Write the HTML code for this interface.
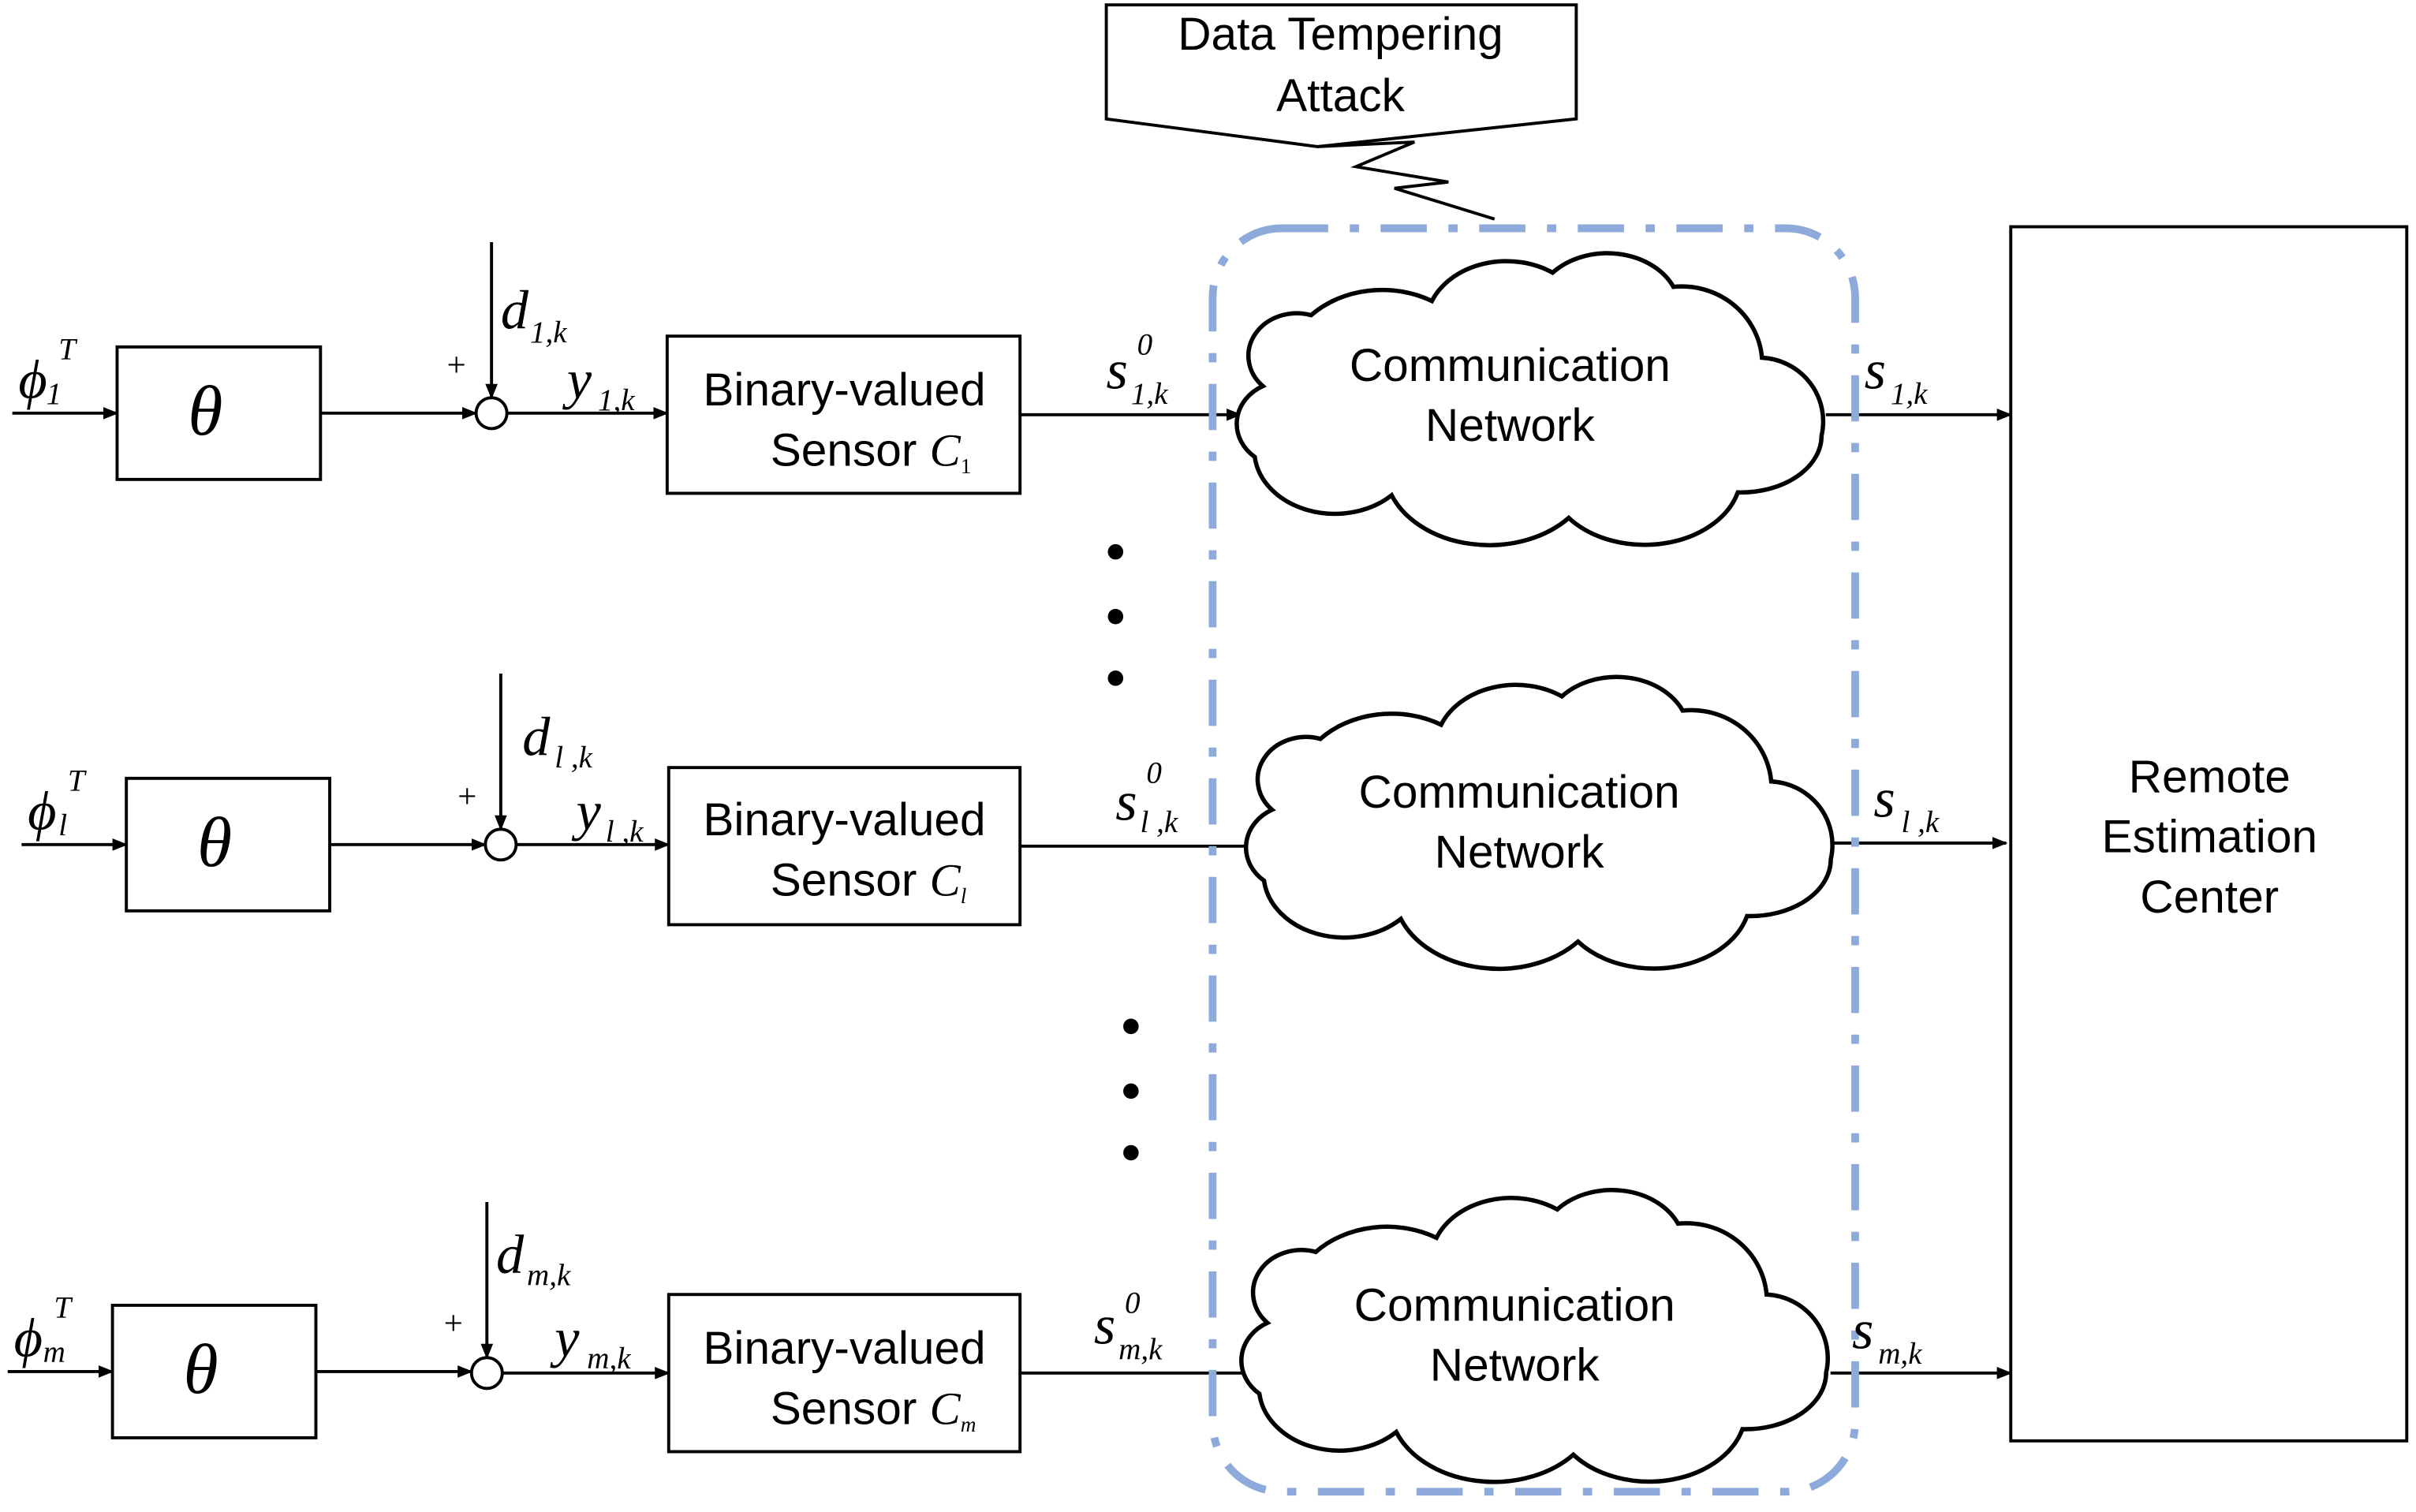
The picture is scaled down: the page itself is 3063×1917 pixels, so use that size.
<!DOCTYPE html>
<html><head><meta charset="utf-8"><style>
html,body{margin:0;padding:0;background:#fff;}
svg{display:block;}
.t{font-family:"Liberation Sans",sans-serif;font-size:30px;fill:#000;}
.m{font-family:"Liberation Serif",serif;font-style:italic;fill:#000;}
.r{font-family:"Liberation Serif",serif;fill:#000;}
</style></head><body>
<svg width="3063" height="1917" viewBox="0 0 1568 981" xmlns="http://www.w3.org/2000/svg">
<defs>
<marker id="a" markerWidth="10" markerHeight="10" refX="9" refY="5" orient="auto" markerUnits="userSpaceOnUse"><path d="M0,1 L10,5 L0,9 Z" fill="#000"/></marker>
<path id="cloud" d="M35,95 A30,30 0 0 1 65,45 A60,55 0 0 1 140,35 A50,45 0 0 1 215,15 A45,40 0 0 1 290,25 A50,55 0 0 1 345,75 A40,45 0 0 1 382,130 A50,40 0 0 1 330,170 A60,50 0 0 1 225,188 A65,55 0 0 1 115,172 A50,45 0 0 1 30,145 A30,30 0 0 1 35,95 Z" fill="#fff" stroke="#000" stroke-width="5.5" vector-effect="non-scaling-stroke"/>
</defs>
<g stroke="#000" stroke-width="2" fill="none">
<line x1="8" y1="268" x2="76" y2="268" marker-end="url(#a)"/>
<rect x="76" y="225" width="132" height="86"/>
<line x1="208" y1="268" x2="309" y2="268" marker-end="url(#a)"/>
<circle cx="319" cy="268" r="10"/>
<line x1="319" y1="157" x2="319" y2="258" marker-end="url(#a)"/>
<line x1="329" y1="268" x2="433" y2="268" marker-end="url(#a)"/>
<rect x="433" y="218" width="229" height="102"/>
<line x1="662" y1="269" x2="805" y2="269" marker-end="url(#a)"/>
<line x1="1185" y1="269" x2="1305" y2="269" marker-end="url(#a)"/>
<line x1="14" y1="548" x2="82" y2="548" marker-end="url(#a)"/>
<rect x="82" y="505" width="132" height="86"/>
<line x1="214" y1="548" x2="315" y2="548" marker-end="url(#a)"/>
<circle cx="325" cy="548" r="10"/>
<line x1="325" y1="437" x2="325" y2="538" marker-end="url(#a)"/>
<line x1="335" y1="548" x2="434" y2="548" marker-end="url(#a)"/>
<rect x="434" y="498" width="228" height="102"/>
<line x1="662" y1="549" x2="818" y2="549" marker-end="url(#a)"/>
<line x1="1190" y1="547" x2="1302" y2="547" marker-end="url(#a)"/>
<line x1="5" y1="890" x2="73" y2="890" marker-end="url(#a)"/>
<rect x="73" y="847" width="132" height="86"/>
<line x1="205" y1="890" x2="306" y2="890" marker-end="url(#a)"/>
<circle cx="316" cy="891" r="10"/>
<line x1="316" y1="780" x2="316" y2="881" marker-end="url(#a)"/>
<line x1="326" y1="891" x2="434" y2="891" marker-end="url(#a)"/>
<rect x="434" y="840" width="228" height="102"/>
<line x1="662" y1="891" x2="818" y2="891" marker-end="url(#a)"/>
<line x1="1188" y1="891" x2="1305" y2="891" marker-end="url(#a)"/>
<rect x="1305" y="147" width="257" height="788"/>
</g>
<use href="#cloud" transform="translate(783,163) scale(1.045,0.92)"/>
<use href="#cloud" transform="translate(789,438) scale(1.045,0.92)"/>
<use href="#cloud" transform="translate(786,771) scale(1.045,0.92)"/>
<rect x="787" y="148" width="417" height="820" rx="45" fill="none" stroke="#8eaadb" stroke-width="5" stroke-dasharray="30,14,6,14"/>
<path d="M718,3 L1023,3 L1023,77 L855,95 L718,77 Z" fill="#fff" stroke="#000" stroke-width="2"/>
<path d="M855,95 L918,92 L880,108 L940,118 L905,122 L970,142" fill="none" stroke="#000" stroke-width="2"/>
<g fill="#000">
<circle cx="724" cy="358" r="5"/><circle cx="724" cy="400" r="5"/><circle cx="724" cy="440" r="5"/>
<circle cx="734" cy="666" r="5"/><circle cx="734" cy="708" r="5"/><circle cx="734" cy="748" r="5"/>
</g>
<g class="t" text-anchor="middle">
<text x="870" y="32">Data Tempering</text><text x="870" y="72">Attack</text>
<text x="980" y="247">Communication</text><text x="980" y="286">Network</text>
<text x="986" y="524">Communication</text><text x="986" y="563">Network</text>
<text x="983" y="857">Communication</text><text x="983" y="896">Network</text>
<text x="1434" y="514">Remote</text><text x="1434" y="553">Estimation</text><text x="1434" y="592">Center</text>
<text x="548" y="263">Binary-valued</text><text x="548" y="542">Binary-valued</text><text x="548" y="885">Binary-valued</text>
</g>
<g class="t">
<text x="500" y="302">Sensor <tspan class="m">C</tspan><tspan class="r" font-size="14" dy="5">1</tspan></text>
<text x="500" y="581">Sensor <tspan class="m">C</tspan><tspan class="m" font-size="14" dy="5">l</tspan></text>
<text x="500" y="924">Sensor <tspan class="m">C</tspan><tspan class="m" font-size="14" dy="5">m</tspan></text>
</g>
<g class="m" font-size="46">
<text x="122" y="282">θ</text><text x="128" y="562">θ</text><text x="119" y="904">θ</text>
</g>
<g class="r" font-size="22">
<text x="290" y="244">+</text><text x="297" y="524">+</text><text x="288" y="866">+</text>
</g>
<g class="m" font-size="36">
<text x="12" y="258">ϕ</text><text x="18" y="538">ϕ</text><text x="9" y="880">ϕ</text>
<text x="325" y="213">d</text><text x="339" y="490">d</text><text x="322" y="826">d</text>
<text x="368" y="258">y</text><text x="374" y="538">y</text><text x="360" y="880">y</text>
<text x="718" y="252">s</text><text x="724" y="532">s</text><text x="710" y="872">s</text>
<text x="1210" y="252">s</text><text x="1216" y="530">s</text><text x="1202" y="875">s</text>
</g>
<g class="m" font-size="20">
<text x="38" y="233">T</text><text x="30" y="262" class="r">1</text>
<text x="44" y="513">T</text><text x="38" y="542">l</text>
<text x="35" y="855">T</text><text x="28" y="884">m</text>
<text x="344" y="222"><tspan class="r">1</tspan>,k</text>
<text x="360" y="498">l ,k</text>
<text x="342" y="834">m,k</text>
<text x="388" y="266"><tspan class="r">1</tspan>,k</text>
<text x="393" y="546">l ,k</text>
<text x="381" y="888">m,k</text>
<text x="734" y="262"><tspan class="r">1</tspan>,k</text><text x="738" y="230" class="r">0</text>
<text x="740" y="540">l ,k</text><text x="744" y="508" class="r">0</text>
<text x="726" y="882">m,k</text><text x="730" y="852" class="r">0</text>
<text x="1227" y="262"><tspan class="r">1</tspan>,k</text>
<text x="1234" y="540">l ,k</text>
<text x="1219" y="885">m,k</text>
</g>
</svg>
</body></html>
